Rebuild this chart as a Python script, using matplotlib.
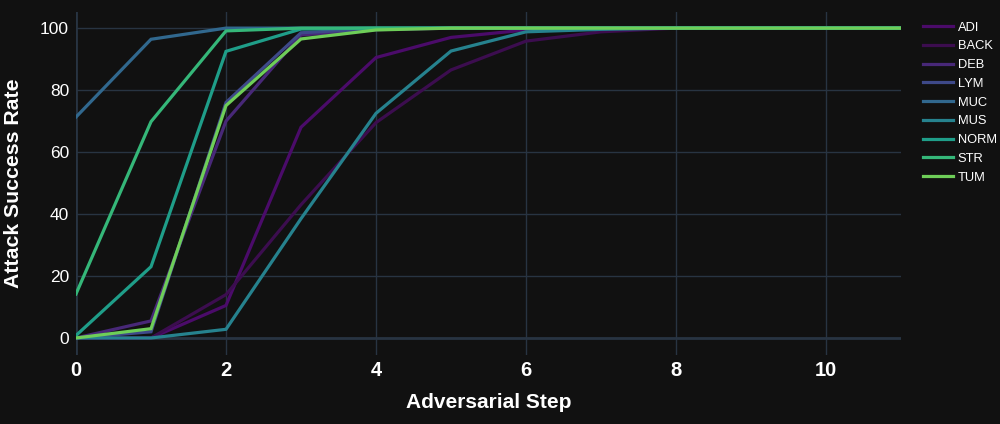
import matplotlib
matplotlib.use("Agg")
import matplotlib.pyplot as plt

steps = list(range(12))
classes = ["ADI", "BACK", "DEB", "LYM", "MUC", "MUS", "NORM", "STR", "TUM"]
colors = ["#4b0b6a", "#3c0d4f", "#482878", "#3e4989", "#31688e", "#26828e", "#1f9e89", "#35b779", "#6ece58"]

adi = [0, 0, 10.5, 68, 90.5, 97, 99.4, 100, 100, 100, 100, 100]
back = [0, 0, 14, 43, 69.5, 86.5, 95.8, 98.8, 100, 100, 100, 100]
deb = [0, 5.5, 70, 97.8, 99.5, 100, 100, 100, 100, 100, 100, 100]
lym = [0, 2, 76, 98.5, 99.8, 100, 100, 100, 100, 100, 100, 100]
muc = [71.3, 96.4, 100, 100, 100, 100, 100, 100, 100, 100, 100, 100]
mus = [0, 0, 2.8, 38.5, 72.5, 92.6, 98.8, 99.6, 100, 100, 100, 100]
norm = [0.8, 23, 92.5, 99.7, 100, 100, 100, 100, 100, 100, 100, 100]
strm = [14.2, 69.8, 99.1, 100, 100, 100, 100, 100, 100, 100, 100, 100]
tum = [0, 3, 75, 96.5, 99.4, 100, 100, 100, 100, 100, 100, 100]
series = [adi, back, deb, lym, muc, mus, norm, strm, tum]

BG = "#111111"
GRID = "#283442"

fig = plt.figure(figsize=(10, 4.24), dpi=100, facecolor=BG)
ax = fig.add_axes([0.076, 0.1627, 0.825, 0.809])
ax.set_facecolor(BG)

for name, vals, c in zip(classes, series, colors):
    ax.plot(steps, vals, color=c, lw=2.3, label=name, solid_joinstyle="miter")

ax.set_xlim(0, 11)
ax.set_ylim(-5.5, 105.2)
ax.set_xticks(range(0, 12, 2))
ax.set_yticks(range(0, 101, 20))
ax.grid(True, color=GRID, lw=1)
ax.set_axisbelow(True)
ax.axhline(0, color=GRID, lw=2, zorder=0.5)
ax.axvline(0, color=GRID, lw=2, zorder=0.5)
for s in ax.spines.values():
    s.set_visible(False)
ax.tick_params(length=0, colors="white")
ax.tick_params(axis="y", labelsize=12.5, pad=5)
ax.tick_params(axis="x", labelsize=14.5, pad=4)
for t in ax.get_xticklabels():
    t.set_fontfamily("Liberation Sans")
    t.set_fontweight("bold")
for t in ax.get_yticklabels():
    t.set_fontfamily("Liberation Sans")

ax.set_xlabel("Adversarial Step", color="white", fontsize=15, fontweight="bold",
              fontfamily="Liberation Sans", labelpad=10)
ax.set_ylabel("Attack Success Rate", color="white", fontsize=15.3, fontweight="bold",
              fontfamily="Liberation Sans", labelpad=12)

leg = ax.legend(loc="upper left", bbox_to_anchor=(1.017, 0.995), frameon=False,
                prop={"family": "Liberation Sans", "size": 9.3},
                handlelength=2.35, handletextpad=0.35, labelspacing=0.52,
                borderaxespad=0.2)
for t in leg.get_texts():
    t.set_color("white")

fig.savefig("out.png", dpi=100, facecolor=BG)
